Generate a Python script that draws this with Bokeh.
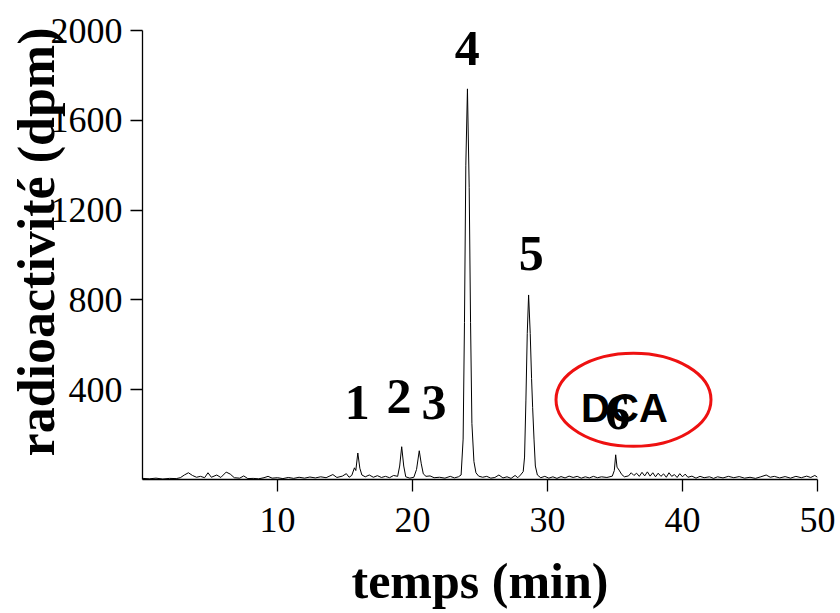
from bokeh.plotting import figure
from bokeh.models import Range1d, FixedTicker, Label
from bokeh.embed import file_html
from bokeh.resources import INLINE

# Chromatogram trace (time in min, radioactivity in dpm)
times = [0.0, 0.5, 1.0, 1.5, 2.0, 2.5, 2.8, 3.1, 3.4, 3.7, 4.0, 4.3, 4.6, 4.85, 5.1,
         5.5, 5.8, 6.2, 6.5, 6.8, 7.2, 7.5, 7.8, 8.2, 8.6, 9.0, 9.3, 9.6, 10.0, 10.4,
         10.8, 11.2, 11.6, 12.0, 12.4, 12.8, 13.2, 13.6, 14.1, 14.4, 14.8, 15.1, 15.3,
         15.5, 15.7, 15.8, 15.95, 16.1, 16.25, 16.5, 16.8, 17.1, 17.4, 17.7, 18.0, 18.3,
         18.6, 18.9, 19.05, 19.2, 19.35, 19.5, 19.8, 20.1, 20.3, 20.5, 20.65, 20.8, 21.0,
         21.3, 21.6, 22.0, 22.4, 22.8, 23.1, 23.4, 23.6, 23.75, 23.85, 23.95, 24.07, 24.2,
         24.3, 24.4, 24.55, 24.7, 24.9, 25.2, 25.5, 25.8, 26.1, 26.4, 26.7, 27.0, 27.3,
         27.6, 27.8, 28.0, 28.2, 28.3, 28.4, 28.5, 28.6, 28.72, 28.82, 28.9, 29.0, 29.1,
         29.25, 29.5, 29.8, 30.1, 30.4, 30.7, 31.0, 31.3, 31.6, 31.9, 32.2, 32.5, 32.8,
         33.1, 33.4, 33.7, 34.0, 34.4, 34.8, 34.95, 35.05, 35.15, 35.3, 35.5, 35.7, 36.0,
         36.2, 36.4, 36.6, 36.8, 37.0, 37.2, 37.4, 37.6, 37.8, 38.0, 38.2, 38.4, 38.6,
         38.8, 39.0, 39.2, 39.4, 39.6, 39.8, 40.0, 40.2, 40.4, 40.7, 41.0, 41.3, 41.6,
         42.0, 42.3, 42.6, 43.0, 43.4, 43.8, 44.2, 44.6, 45.0, 45.4, 45.8, 46.2, 46.5,
         46.8, 47.2, 47.6, 48.0, 48.4, 48.8, 49.2, 49.5, 49.8, 50.0]
dpm = [5, 3, 6, 2, 5, 4, 8, 20, 30, 18, 10, 14, 8, 30, 10,
       20, 9, 33, 24, 8, 6, 16, 4, 5, 3, 8, 14, 6, 8, 4,
       9, 5, 10, 6, 11, 7, 12, 8, 22, 9, 15, 26, 10,
       18, 52, 40, 118, 50, 20, 12, 20, 10, 17, 9, 14, 8,
       18, 14, 60, 146, 60, 12, 6, 10, 45, 128, 70, 25, 14,
       16, 8, 10, 6, 14, 7, 12, 20, 180, 700, 1400, 1740, 1300,
       700, 250, 80, 30, 15, 10, 14, 6, 9, 20, 7, 12, 5,
       18, 8, 20, 35, 100, 350, 650, 822, 650, 450, 320, 180, 60,
       20, 8, 14, 6, 12, 5, 13, 7, 15, 9, 14, 6, 12,
       7, 14, 8, 12, 9, 15, 40, 110, 55, 42, 22, 12, 16,
       30, 18, 28, 14, 32, 16, 34, 15, 30, 12, 28, 14, 25,
       10, 30, 14, 22, 9, 26, 12, 24, 10, 15, 6, 14, 8,
       12, 5, 12, 7, 14, 8, 13, 6, 10, 5, 12, 20, 10,
       14, 7, 13, 6, 14, 8, 15, 9, 18, 10]

x_ticks = [10, 20, 30, 40, 50]
y_ticks = [400, 800, 1200, 1600, 2000]

peak_labels = ["1", "2", "3", "4", "5", "6"]
peak_label_x = [15.9, 19.0, 21.6, 24.05, 28.8, 35.2]
peak_label_y = [343, 370, 343, 1918, 1005, 298]

serif = "Liberation Serif"

p = figure(width=840, height=613, output_backend="svg", toolbar_location=None,
           x_range=Range1d(0, 50), y_range=Range1d(0, 2000),
           min_border_left=142, min_border_right=23, min_border_top=30,
           min_border_bottom=134,
           x_axis_label="temps (min)",
           y_axis_label="\u00a0\u00a0radioactivité (dpm)")
p.outline_line_color = None
p.grid.grid_line_color = None
p.background_fill_color = "white"

p.line(times, dpm, line_color="black", line_width=1)

for ax in (p.xaxis[0], p.yaxis[0]):
    ax.axis_line_color = "black"
    ax.axis_line_width = 1.3
    ax.major_tick_line_color = "black"
    ax.major_tick_line_width = 1.3
    ax.major_tick_out = 12
    ax.major_tick_in = 0
    ax.minor_tick_line_color = None
    ax.major_label_text_font = serif
    ax.major_label_text_font_size = "36px"
    ax.major_label_text_color = "black"
    ax.axis_label_text_font = serif
    ax.axis_label_text_font_style = "bold"
    ax.axis_label_text_font_size = "50px"
    ax.axis_label_text_color = "black"

p.yaxis.axis_label_text_font_size = "52px"
p.xaxis.ticker = FixedTicker(ticks=x_ticks)
p.yaxis.ticker = FixedTicker(ticks=y_ticks)
p.xaxis.major_label_standoff = 16
p.yaxis.major_label_standoff = 8
p.xaxis.axis_label_standoff = 18
p.yaxis.axis_label_standoff = -17

for t, xx, yy in zip(peak_labels, peak_label_x, peak_label_y):
    p.add_layout(Label(x=xx, y=yy, text=t, text_font=serif, text_font_style="bold",
                       text_font_size="50px", text_align="center",
                       text_baseline="alphabetic", text_color="black"))

p.add_layout(Label(x=35.7, y=318, text="DCA", text_font="Liberation Sans",
                   text_font_style="bold", text_font_size="40px", text_align="center",
                   text_baseline="alphabetic", text_color="black"))

p.ellipse(x=[36.37], y=[355], width=[11.48], height=[414.5],
          fill_color=None, line_color="#ee1111", line_width=3)

open("out.html", "w").write(file_html(p, INLINE))
